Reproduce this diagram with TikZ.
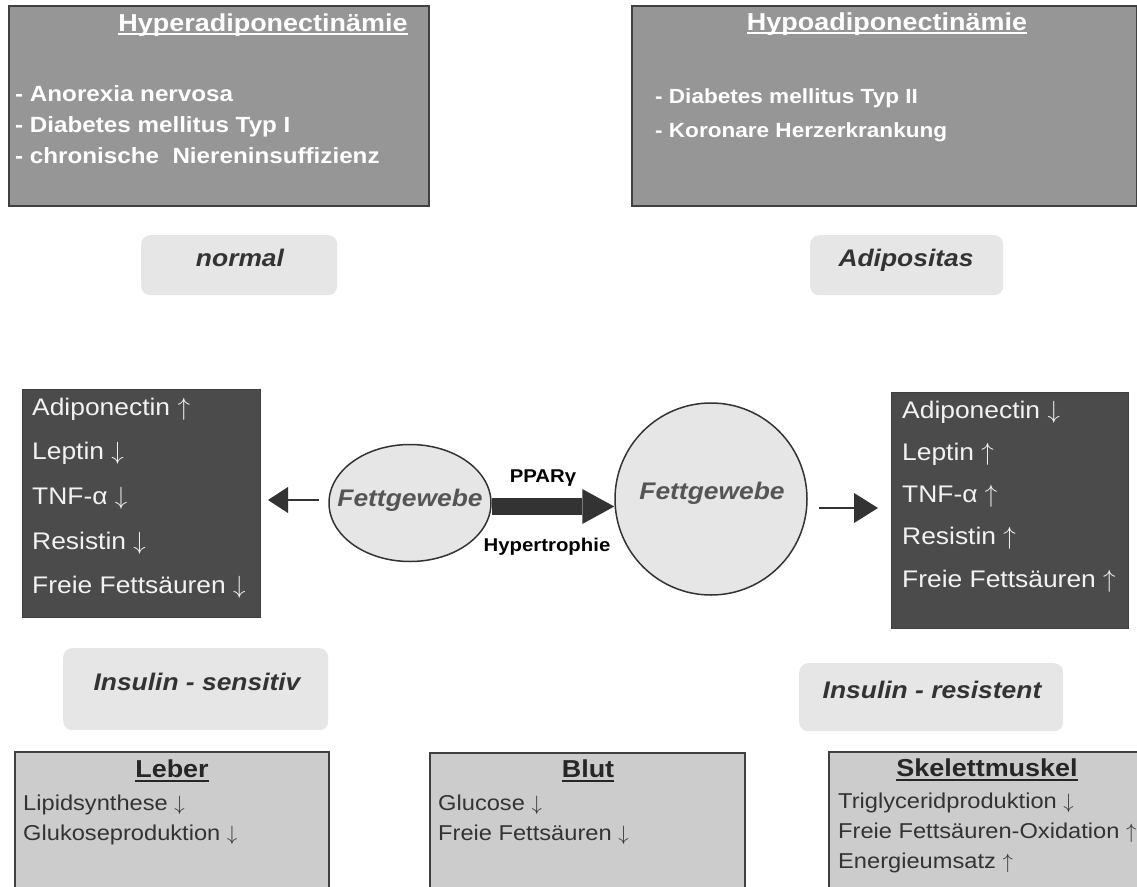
\documentclass[tikz,border=0pt]{standalone}
\usepackage{fontspec}
\setmainfont{Liberation Sans}[FakeStretch=1.1]
\usetikzlibrary{shapes.geometric,arrows.meta}
\definecolor{topfill}{HTML}{969696}
\definecolor{boxline}{HTML}{404040}
\definecolor{pill}{HTML}{E6E6E6}
\definecolor{pilltext}{HTML}{333333}
\definecolor{darkfill}{HTML}{4B4B4B}
\definecolor{darktext}{HTML}{F2F2F2}
\definecolor{lowfill}{HTML}{CCCCCC}
\definecolor{lowtext}{HTML}{333333}
\definecolor{arrowc}{HTML}{333333}
\definecolor{fgtext}{HTML}{555555}
\newcommand{\fsz}[1]{\fontsize{#1pt}{#1pt}\selectfont}
\newcommand{\uarr}{$\uparrow$}
\newcommand{\darr}{$\downarrow$}
\begin{document}
\begin{tikzpicture}[x=1pt,y=-1pt,
  topbox/.style={draw=boxline, line width=2pt, fill=topfill, anchor=north west, inner sep=0pt},
  pillbox/.style={fill=pill, rounded corners=9pt, anchor=north west, inner sep=0pt},
  darkbox/.style={draw=black!75, line width=1pt, fill=darkfill, anchor=north west, inner sep=0pt},
  lowbox/.style={draw=boxline, line width=2pt, fill=lowfill, anchor=north west, inner sep=0pt},
  toptitle/.style={anchor=base, inner sep=0pt, text=white, font=\fsz{24.5}\bfseries},
  topitem/.style={anchor=base west, inner sep=0pt, text=white, font=\fsz{22}\bfseries},
  pilltxt/.style={anchor=base, inner sep=0pt, text=pilltext, font=\fsz{24}\bfseries\itshape},
  darkitem/.style={anchor=base west, inner sep=0pt, text=darktext, font=\fsz{24}},
  fgt/.style={anchor=base, inner sep=0pt, text=fgtext, font=\fsz{24}\bfseries\itshape},
  arrlabel/.style={anchor=base, inner sep=0pt, text=black, font=\fsz{18.5}\bfseries},
  lowtitle/.style={anchor=base, inner sep=0pt, text=black!85, font=\fsz{24.5}\bfseries},
  lowitem/.style={anchor=base west, inner sep=0pt, text=lowtext, font=\fsz{21.5}},
  thinarrow/.style={draw=arrowc, line width=2.5pt},
  bigarrow/.style={draw=arrowc, line width=17pt, -{Triangle[length=32pt,width=35pt,line width=0pt]}},
  fatcell/.style={draw=black!80, line width=1.5pt, fill=pill, inner sep=0pt}
]
\useasboundingbox (0,0) rectangle (1137,886);

% top boxes
\node[topbox, minimum width=420pt, minimum height=200pt] (hyper) at (8,5) {};
\node[topbox, minimum width=505pt, minimum height=200pt] (hypo) at (631,5) {};
\node[toptitle] (hyperT) at (263,31) {Hyperadiponectinämie};
\draw[white, line width=2pt] ([yshift=-3pt]hyperT.base west) -- ([yshift=-3pt]hyperT.base east);
\node[topitem] (h1) at (15,101) {- Anorexia nervosa};
\node[topitem] (h2) at (15,132) {- Diabetes mellitus Typ I};
\node[topitem] (h3) at (15,163) {- chronische\ \ Niereninsuffizienz};
\node[toptitle] (hypoT) at (887,30) {Hypoadiponectinämie};
\draw[white, line width=2pt] ([yshift=-3pt]hypoT.base west) -- ([yshift=-3pt]hypoT.base east);
\node[topitem, font=\fsz{20.5}\bfseries] (o1) at (655,103) {- Diabetes mellitus Typ II};
\node[topitem, font=\fsz{20.5}\bfseries] (o2) at (655,137) {- Koronare Herzerkrankung};

% pills
\node[pillbox, minimum width=196pt, minimum height=60pt] (pnorm) at (141,235) {};
\node[pilltxt] (tnorm) at (240,266) {normal};
\node[pillbox, minimum width=193pt, minimum height=60pt] (padip) at (810,235) {};
\node[pilltxt] (tadip) at (906,266) {Adipositas};
\node[pillbox, minimum width=265pt, minimum height=82pt] (psens) at (63,648) {};
\node[pilltxt] (tsens) at (197,690) {Insulin - sensitiv};
\node[pillbox, minimum width=264pt, minimum height=68pt] (pres) at (799,663) {};
\node[pilltxt] (tres) at (932,698) {Insulin - resistent};

% dark boxes
\node[darkbox, minimum width=238pt, minimum height=228pt] (darkL) at (22,389) {};
\node[darkitem] (l1) at (32,415) {Adiponectin \uarr};
\node[darkitem] (l2) at (32,459.7) {Leptin \darr};
\node[darkitem] (l3) at (32,504.4) {TNF-α \darr};
\node[darkitem] (l4) at (32,549.1) {Resistin \darr};
\node[darkitem] (l5) at (32,593.8) {Freie Fettsäuren \darr};
\node[darkbox, minimum width=237pt, minimum height=236pt] (darkR) at (891,392) {};
\node[darkitem] (r1) at (902,418) {Adiponectin \darr};
\node[darkitem] (r2) at (902,460) {Leptin \uarr};
\node[darkitem] (r3) at (902,502) {TNF-α \uarr};
\node[darkitem] (r4) at (902,544) {Resistin \uarr};
\node[darkitem] (r5) at (902,587) {Freie Fettsäuren \uarr};

% fat tissue
\node[fatcell, ellipse, minimum width=162pt, minimum height=117pt] (fs) at (410,503) {};
\node[fgt] (fst) at (410,506) {Fettgewebe};
\node[fatcell, circle, minimum size=192pt] (fb) at (711,499) {};
\node[fgt] (fbt) at (712,499) {Fettgewebe};

% arrows
\coordinate (ya) at (0,500);
\coordinate (yb) at (0,506.5);
\coordinate (yc) at (0,508);
\draw[thinarrow, -{Triangle[length=20pt,width=26pt,line width=0pt]}, shorten <=9pt, shorten >=7pt]
  (fs.west |- ya) -- (darkL.east |- ya);
\draw[bigarrow] (fs.east |- yb) -- (fb.west |- yb);
\draw[thinarrow, -{Triangle[length=24pt,width=30pt,line width=0pt]}, shorten <=11pt, shorten >=13pt]
  (fb.east |- yc) -- (darkR.west |- yc);
\node[arrlabel] (ppar) at (543,482) {PPARγ};
\node[arrlabel] (hyp) at (547,551) {Hypertrophie};

% bottom boxes
\node[lowbox, minimum width=314pt, minimum height=150pt] (leber) at (14,751) {};
\node[lowtitle] (leberT) at (172,777) {Leber};
\draw[black!85, line width=2pt] ([yshift=-3.5pt]leberT.base west) -- ([yshift=-3.5pt]leberT.base east);
\node[lowitem] (b1) at (23,810) {Lipidsynthese \darr};
\node[lowitem] (b2) at (23,840) {Glukoseproduktion \darr};

\node[lowbox, minimum width=315pt, minimum height=150pt] (blut) at (429,752) {};
\node[lowtitle] (blutT) at (588,777) {Blut};
\draw[black!85, line width=2pt] ([yshift=-3.5pt]blutT.base west) -- ([yshift=-3.5pt]blutT.base east);
\node[lowitem] (u1) at (438,810) {Glucose \darr};
\node[lowitem] (u2) at (438,840) {Freie Fettsäuren \darr};

\node[lowbox, minimum width=320pt, minimum height=150pt] (skel) at (828,751) {};
\node[lowtitle] (skelT) at (987,776) {Skelettmuskel};
\draw[black!85, line width=2pt] ([yshift=-3.5pt]skelT.base west) -- ([yshift=-3.5pt]skelT.base east);
\node[lowitem] (s1) at (838,808) {Triglyceridproduktion \darr};
\node[lowitem] (s2) at (838,838) {Freie Fettsäuren-Oxidation \uarr};
\node[lowitem] (s3) at (838,868) {Energieumsatz \uarr};
\end{tikzpicture}
\end{document}
